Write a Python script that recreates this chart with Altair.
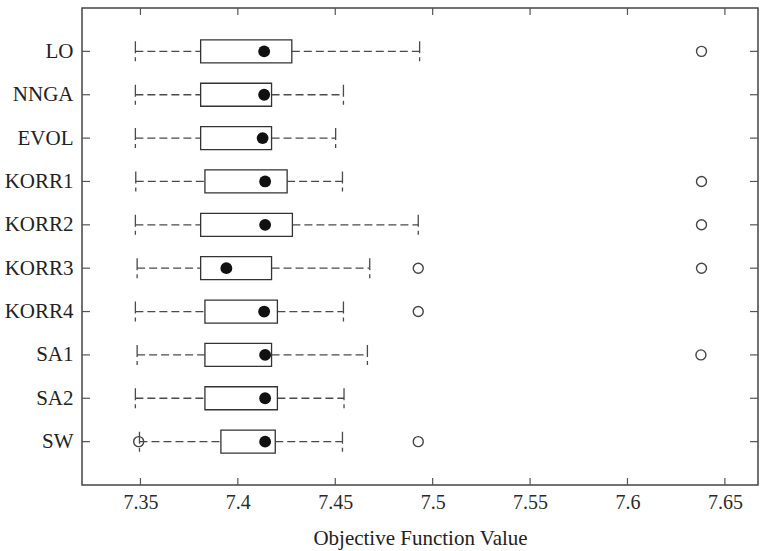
import altair as alt
import pandas as pd

# Box-plot summary per algorithm (objective function value)
categories = ["LO", "NNGA", "EVOL", "KORR1", "KORR2", "KORR3", "KORR4", "SA1", "SA2", "SW"]
lower = [7.3474, 7.3474, 7.3474, 7.3476, 7.3474, 7.3483, 7.3474, 7.3483, 7.3474, 7.3495]
q1 = [7.3809, 7.3809, 7.3809, 7.3831, 7.3809, 7.3809, 7.3831, 7.3831, 7.3831, 7.3913]
center = [7.4135, 7.4135, 7.4127, 7.4140, 7.4140, 7.3941, 7.4135, 7.4140, 7.4140, 7.4140]
q3 = [7.4277, 7.4173, 7.4173, 7.4253, 7.4280, 7.4173, 7.4203, 7.4173, 7.4203, 7.4192]
upper = [7.4933, 7.4542, 7.4502, 7.4537, 7.4926, 7.4677, 7.4542, 7.4665, 7.4545, 7.4537]

outlier_cat = ["LO", "KORR1", "KORR2", "KORR3", "KORR3", "KORR4", "SA1", "SW", "SW"]
outlier_val = [7.638, 7.638, 7.638, 7.4926, 7.638, 7.4926, 7.6377, 7.3491, 7.4926]

x_ticks = [7.35, 7.40, 7.45, 7.50, 7.55, 7.60, 7.65]

summary = pd.DataFrame({
    "alg": categories, "lower": lower, "q1": q1,
    "center": center, "q3": q3, "upper": upper,
})
outliers = pd.DataFrame({"alg": outlier_cat, "value": outlier_val})
ticks = pd.DataFrame({"v": x_ticks})

FONT = "Liberation Serif, Times New Roman, DejaVu Serif, serif"
INK = "#333333"
W, H = 676, 477

x_scale = alt.Scale(domain=[7.32, 7.667], nice=False, zero=False)
y_scale = alt.Scale(type="point", domain=categories, padding=1)

x_axis = alt.Axis(
    values=x_ticks, format=".2~f", ticks=False, domain=False, grid=False,
    labelFont=FONT, labelFontSize=20, labelColor="#2a2a2a", labelPadding=7,
    labelFlush=False,
    title="Objective Function Value", titleFont=FONT, titleFontSize=21,
    titleFontWeight="normal", titleColor="#222222", titlePadding=15,
)
y_axis = alt.Axis(
    ticks=False, domain=False, grid=False, title=None,
    labelFont=FONT, labelFontSize=21, labelColor="#222222", labelPadding=9,
)

y_enc = alt.Y("alg:N", scale=y_scale, axis=y_axis, sort=categories)

base = alt.Chart(summary)

# dashed whiskers
whisk_lo = base.mark_rule(color="#4a4a4a", strokeWidth=1.3, strokeDash=[8, 4]).encode(
    x=alt.X("lower:Q", scale=x_scale, axis=x_axis), x2="q1:Q", y=y_enc
)
whisk_hi = base.mark_rule(color="#4a4a4a", strokeWidth=1.3, strokeDash=[8, 4]).encode(
    x="q3:Q", x2="upper:Q", y=y_enc
)

# dashed whisker caps (vertical path symbols)
cap_shape = "M0,-1L0,1"
cap_lo = base.mark_point(shape=cap_shape, size=400, filled=False, color="#4a4a4a",
                         strokeWidth=1.3, strokeDash=[12, 4], opacity=1).encode(
    x="lower:Q", y=y_enc
)
cap_hi = base.mark_point(shape=cap_shape, size=400, filled=False, color="#4a4a4a",
                         strokeWidth=1.3, strokeDash=[12, 4], opacity=1).encode(
    x="upper:Q", y=y_enc
)

# boxes
boxes = base.mark_bar(size=23, fill="white", stroke=INK, strokeWidth=1.3).encode(
    x="q1:Q", x2="q3:Q", y=y_enc
)

# filled centre markers
dots = base.mark_point(shape="circle", size=140, filled=True, color="#111111", opacity=1).encode(
    x="center:Q", y=y_enc
)

# outliers
outs = alt.Chart(outliers).mark_point(shape="circle", size=100, filled=False,
                                      color="#444444", strokeWidth=1.4, opacity=1).encode(
    x="value:Q", y=y_enc
)

# inward tick marks on all four sides
tick_style = dict(color="#555555", strokeWidth=1.2)
tick_bottom = alt.Chart(ticks).mark_rule(**tick_style).encode(
    x="v:Q", y=alt.value(H - 7), y2=alt.value(H)
)
tick_top = alt.Chart(ticks).mark_rule(**tick_style).encode(
    x="v:Q", y=alt.value(0), y2=alt.value(7)
)
tick_left = base.mark_rule(**tick_style).encode(
    x=alt.value(0), x2=alt.value(8), y=y_enc
)
tick_right = base.mark_rule(**tick_style).encode(
    x=alt.value(W - 8), x2=alt.value(W), y=y_enc
)

chart = alt.layer(
    whisk_lo, whisk_hi, cap_lo, cap_hi, boxes, dots, outs,
    tick_bottom, tick_top, tick_left, tick_right,
).properties(
    width=W, height=H,
    autosize=alt.AutoSizeParams(type="none"),
    padding={"left": 82, "top": 8, "right": 2, "bottom": 66},
    background="white",
).configure_view(
    stroke="#444444", strokeWidth=1.5
)

chart.save("out.html", embed_options={"renderer": "svg", "actions": False})
